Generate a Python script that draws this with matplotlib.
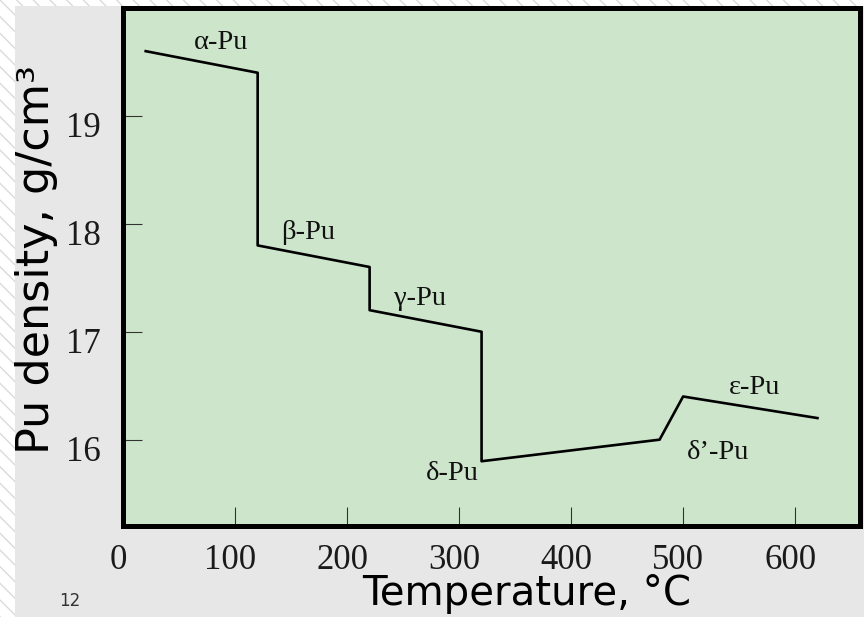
import matplotlib.pyplot as plt
from matplotlib.patches import Rectangle
from matplotlib.transforms import ScaledTranslation

# density curve of plutonium vs temperature
temp = [20, 120, 120, 220, 220, 320, 320, 479, 500, 620]
density = [19.6, 19.4, 17.8, 17.6, 17.2, 17.0, 15.8, 16.0, 16.4, 16.2]

phase_labels = ['α-Pu', 'β-Pu', 'γ-Pu', 'δ-Pu', 'δ’-Pu', 'ε-Pu']
label_x = [87, 165, 265, 294, 531, 564]
label_y = [19.68, 17.92, 17.31, 15.69, 15.88, 16.48]

xticks = [0, 100, 200, 300, 400, 500, 600]
yticks = [16, 17, 18, 19]

fig = plt.figure(figsize=(8.64, 6.17), dpi=100)

# slide background: hatched white strip + gray panel
fig.patches.append(Rectangle((0, 0), 1, 1, transform=fig.transFigure,
                             facecolor='white', edgecolor='#dadada',
                             hatch='\\\\', lw=0, zorder=-10))
fig.patches.append(Rectangle((15 / 864, 0), 1, 611 / 617, transform=fig.transFigure,
                             facecolor='#e7e7e7', lw=0, zorder=-9))

W, H = 864, 617
left, right, top, bottom = 123.3, 860, 8, 526
ax = fig.add_axes([left / W, (H - bottom) / H, (right - left) / W, (bottom - top) / H])
ax.set_facecolor('#cde6cb')

ax.plot(temp, density, color='black', lw=1.9)

for txt, x, y in zip(phase_labels, label_x, label_y):
    ax.text(x, y, txt, ha='center', va='center', fontsize=20.5,
            family='Liberation Serif', color='#111111')

ax.set_xlim(0, 658)
ax.set_ylim(15.2, 20.0)
ax.set_xticks(xticks)
ax.set_yticks(yticks)

for s in ax.spines.values():
    s.set_linewidth(3.6)
    s.set_color('black')

ax.tick_params(direction='in', length=14, width=0.8, color='#333333',
               top=False, right=False, labelsize=25, labelcolor='#1a1a1a')
ax.tick_params(axis='x', pad=13)
ax.tick_params(axis='y', pad=16)

for lbl in ax.get_xticklabels():
    lbl.set_family('Liberation Serif')
    lbl.set_transform(lbl.get_transform() + ScaledTranslation(-0.05, 0, fig.dpi_scale_trans))
for lbl in ax.get_yticklabels():
    lbl.set_family('Liberation Serif')
    lbl.set_transform(lbl.get_transform() + ScaledTranslation(0, -0.09, fig.dpi_scale_trans))

ax.set_xlabel('Temperature, °C', fontsize=29, family='DejaVu Sans')
ax.xaxis.set_label_coords((527 - left) / (right - left), -0.093)
ax.set_ylabel('Pu density, g/cm³', fontsize=32, family='DejaVu Sans')
ax.yaxis.set_label_coords((58 - left) / (right - left), 0.515)

fig.text(70 / W, 1 - 601 / H, '12', ha='center', va='center', fontsize=12, color='#333333')

fig.savefig('out.png', dpi=100)
